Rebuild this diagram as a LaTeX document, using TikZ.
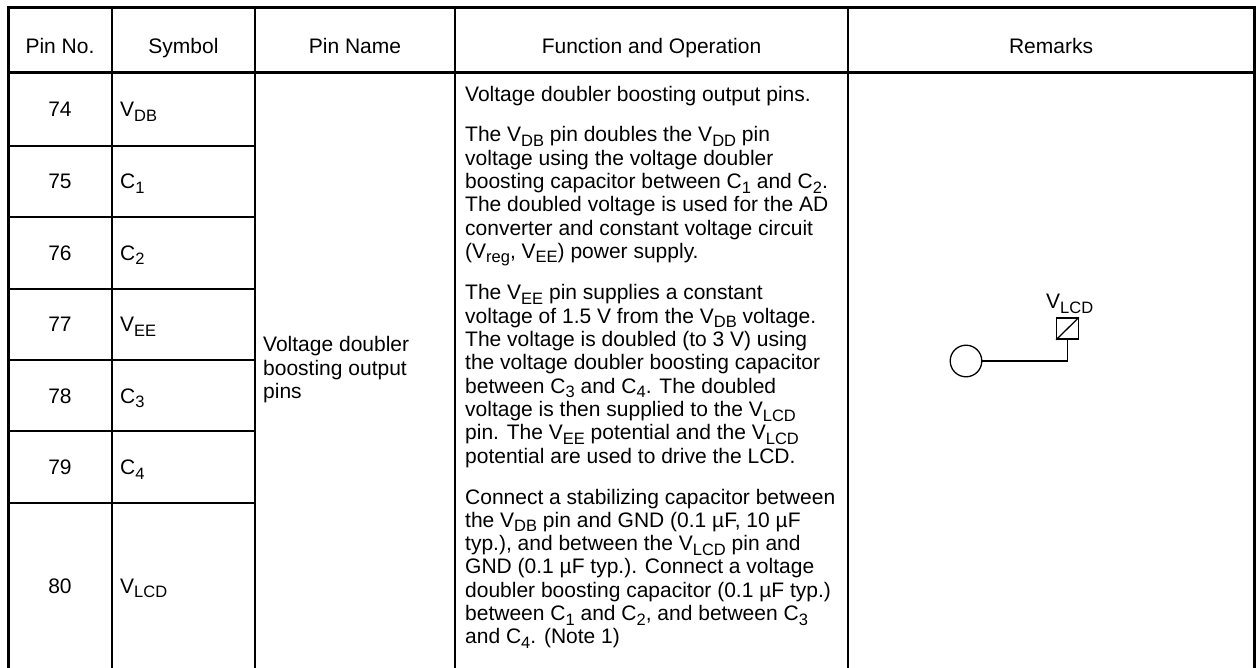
\documentclass[tikz,border=0pt]{standalone}
\usepackage{fontspec}
\setmainfont{Liberation Sans}
\newcommand\sbs[1]{\raisebox{-4.5pt}{\fontsize{16.5}{16.5}\selectfont #1}}
\tikzset{
  txt/.style={anchor=base west, inner sep=0pt, font=\fontsize{21}{23}\selectfont},
  ctxt/.style={anchor=base, inner sep=0pt, font=\fontsize{21}{23}\selectfont},
  outerline/.style={line width=3pt, line cap=rect},
  colline/.style={line width=2pt},
  rowline/.style={line width=1.6pt},
  symline/.style={line width=1.3pt},
}
\begin{document}
\begin{tikzpicture}[x=1pt,y=-1pt]
\useasboundingbox (0,0) rectangle (1256,668);
% grid coordinates
\coordinate (tl) at (8,8);
\coordinate (tr) at (1254,8);
\coordinate (bl) at (8,668);
\coordinate (br) at (1254,668);
% outer border and header rule
\draw[outerline] (bl) -- (tl) -- (tr) -- (br);
\draw[outerline] (8,73) -- (1254,73);
% column lines
\foreach \x in {112,255,455,848} \draw[colline] (\x,8) -- (\x,668);
% row lines (Pin No. and Symbol columns)
\foreach \y in {146,217,289,360,431,503} \draw[rowline] (8,\y) -- (255,\y);
% header
\node[ctxt] (h1) at (60,54) {Pin No.};
\node[ctxt] (h2) at (183.5,54) {Symbol};
\node[ctxt] (h3) at (355,54) {Pin Name};
\node[ctxt] (h4) at (651.5,54) {Function and Operation};
\node[ctxt] (h5) at (1051,54) {Remarks};
% pin numbers and symbols
\node[ctxt] (n74) at (60,117) {74};
\node[ctxt] (n75) at (60,189) {75};
\node[ctxt] (n76) at (60,260.5) {76};
\node[ctxt] (n77) at (60,332) {77};
\node[ctxt] (n78) at (60,403) {78};
\node[ctxt] (n79) at (60,474.5) {79};
\node[ctxt] (n80) at (60,593) {80};
\node[txt] (s74) at (120,117) {V\sbs{DB}};
\node[txt] (s75) at (120,189) {C\sbs{1}};
\node[txt] (s76) at (120,260.5) {C\sbs{2}};
\node[txt] (s77) at (120,332) {V\sbs{EE}};
\node[txt] (s78) at (120,403) {C\sbs{3}};
\node[txt] (s79) at (120,474.5) {C\sbs{4}};
\node[txt] (s80) at (120,593) {V\sbs{LCD}};
% pin name
\node[txt] (pn1) at (263,352) {Voltage doubler};
\node[txt] (pn2) at (263,375.3) {boosting output};
\node[txt] (pn3) at (263,398.6) {pins};
% function and operation
\node[txt] (f1) at (465,102) {Voltage doubler boosting output pins.};
\node[txt] (f2) at (465,142) {The V\sbs{DB} pin doubles the V\sbs{DD} pin};
\node[txt] (f3) at (465,165.3) {voltage using the voltage doubler};
\node[txt] (f4) at (465,188.6) {boosting capacitor between C\sbs{1} and C\sbs{2}.};
\node[txt] (f5) at (465,211.9) {The doubled voltage is used for the AD};
\node[txt] (f6) at (465,235.2) {converter and constant voltage circuit};
\node[txt] (f7) at (465,258.5) {(V\sbs{reg}, V\sbs{EE}) power supply.};
\node[txt] (f8) at (465,300) {The V\sbs{EE} pin supplies a constant};
\node[txt] (f9) at (465,323.3) {voltage of 1.5 V from the V\sbs{DB} voltage.};
\node[txt] (f10) at (465,346.6) {The voltage is doubled (to 3 V) using};
\node[txt] (f11) at (465,369.9) {the voltage doubler boosting capacitor};
\node[txt] (f12) at (465,393.2) {between C\sbs{3} and C\sbs{4}. The doubled};
\node[txt] (f13) at (465,416.5) {voltage is then supplied to the V\sbs{LCD}};
\node[txt] (f14) at (465,439.8) {pin. The V\sbs{EE} potential and the V\sbs{LCD}};
\node[txt] (f15) at (465,463.1) {potential are used to drive the LCD.};
\node[txt] (f16) at (465,504) {Connect a stabilizing capacitor between};
\node[txt] (f17) at (465,527.3) {the V\sbs{DB} pin and GND (0.1 µF, 10 µF};
\node[txt] (f18) at (465,550.6) {typ.), and between the V\sbs{LCD} pin and};
\node[txt] (f19) at (465,573.9) {GND (0.1 µF typ.). Connect a voltage};
\node[txt] (f20) at (465,597.2) {doubler boosting capacitor (0.1 µF typ.)};
\node[txt] (f21) at (465,620.5) {between C\sbs{1} and C\sbs{2}, and between C\sbs{3}};
\node[txt] (f22) at (465,643.8) {and C\sbs{4}. (Note 1)};
% remarks symbol
\node[draw, symline, circle, minimum size=31.6pt, inner sep=0pt] (pad) at (966,361) {};
\node[draw, symline, rectangle, minimum width=21.5pt, minimum height=21pt, inner sep=0pt] (sw) at (1067.5,328.6) {};
\draw[symline] (sw.south west) -- (sw.north east);
\draw[symline] (pad.east) -| (sw.south);
\node[txt] (vlcd) at (1046,309) {V\sbs{LCD}};
\end{tikzpicture}
\end{document}
